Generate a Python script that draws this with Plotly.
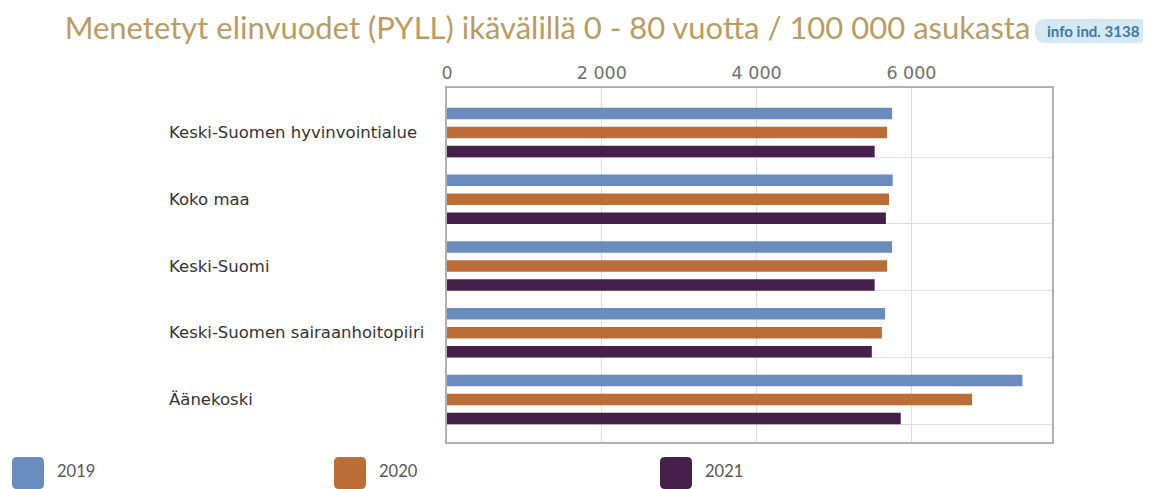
import plotly.graph_objects as go

categories = ["Keski-Suomen hyvinvointialue", "Koko maa", "Keski-Suomi",
              "Keski-Suomen sairaanhoitopiiri", "Äänekoski"]
years = ["2019", "2020", "2021"]
values_2019 = [5750, 5758, 5750, 5659, 7434]
values_2020 = [5685, 5710, 5685, 5618, 6783]
values_2021 = [5525, 5670, 5525, 5488, 5862]
colors = ["#6a8bbd", "#bc6c37", "#45204b"]
x_tickvals = [0, 2000, 4000, 6000]
title_text = "Menetetyt elinvuodet (PYLL) ikävälillä 0 - 80 vuotta / 100 000 asukasta"
badge_text = "info ind. 3138"

OFF = 8  # page body margin
W, H = 1151 - OFF, 489 - OFF
L, R, T, B = 447, 1052, 88, 442  # plot area in reference pixels


def px2paper(px, py):
    return (px - L) / (R - L), (B - py) / (B - T)


def rrect(x0, y0, x1, y1, r):
    def P(x, y):
        a, b = px2paper(x, y)
        return f"{a:.5f},{b:.5f}"
    return (f"M {P(x0 + r, y0)} L {P(x1 - r, y0)} Q {P(x1, y0)} {P(x1, y0 + r)} "
            f"L {P(x1, y1 - r)} Q {P(x1, y1)} {P(x1 - r, y1)} "
            f"L {P(x0 + r, y1)} Q {P(x0, y1)} {P(x0, y1 - r)} "
            f"L {P(x0, y0 + r)} Q {P(x0, y0)} {P(x0 + r, y0)} Z")


series = [values_2019, values_2020, values_2021]
ypos = list(range(len(categories)))

fig = go.Figure()
for name, vals, col in zip(years, series, colors):
    fig.add_trace(go.Bar(y=ypos, x=vals, name=name, orientation="h",
                         marker=dict(color=col, line=dict(width=0)),
                         showlegend=False))

shapes = []
annotations = []

for i, c in enumerate(categories):
    annotations.append(dict(x=(167 - L) / (R - L), y=i, xref="paper", yref="y",
                            text=c, showarrow=False, xanchor="left", yanchor="middle",
                            font=dict(family="DejaVu Sans", size=16.5, color="#333333")))

leg_sq = [12, 334, 660]
for j, (name, col) in enumerate(zip(years, colors)):
    x0 = leg_sq[j]
    shapes.append(dict(type="path", xref="paper", yref="paper",
                       path=rrect(x0, 457, x0 + 32, 489, 5),
                       fillcolor=col, line=dict(width=0), layer="above"))
    a, b = px2paper(x0 + 43, 471)
    annotations.append(dict(x=a, y=b, xref="paper", yref="paper", text=name,
                            showarrow=False, xanchor="left", yanchor="middle",
                            font=dict(family="Lato", size=16.5, color="#555555")))

shapes.append(dict(type="path", xref="paper", yref="paper",
                   path=rrect(1035, 19, 1150, 43, 11),
                   fillcolor="#d5e8f4", line=dict(width=0), layer="above"))
a, b = px2paper(1093, 31)
annotations.append(dict(x=a, y=b, xref="paper", yref="paper", text="<b>" + badge_text + "</b>",
                        showarrow=False, xanchor="center", yanchor="middle",
                        font=dict(family="Lato", size=15, color="#3a79a6")))

grid_offset = 24.5 / 66.75
fig.update_layout(
    width=W, height=H,
    margin=dict(l=L - OFF, r=1151 - R, t=T - OFF, b=489 - B, pad=0),
    paper_bgcolor="white", plot_bgcolor="white",
    barmode="group", bargap=0.146, bargroupgap=0.4,
    separators=", ",
    title=dict(text=title_text, x=(547.5 - OFF) / W, xref="container", xanchor="center",
               y=1 - (28 - OFF) / H, yref="container", yanchor="middle",
               font=dict(family="Lato", size=31, color="#bb9b62")),
    xaxis=dict(side="top", range=[0, 7816], tickvals=x_tickvals, tickformat=",d",
               showgrid=True, gridcolor="#dddddd", gridwidth=1,
               showline=True, linecolor="#b0b0b0", linewidth=2, mirror=True,
               zeroline=False, ticks="",
               tickfont=dict(family="DejaVu Sans", size=17.5, color="#707070")),
    yaxis=dict(range=[4 + (442 - 399.5) / 66.75, -(132.5 - 88) / 66.75],
               tickvals=ypos, showticklabels=False, ticks="", showgrid=False,
               zeroline=False, showline=True, linecolor="#b0b0b0", linewidth=2, mirror=True,
               minor=dict(tickmode="array", tickvals=[i + grid_offset for i in ypos],
                          showgrid=True, gridcolor="#dddddd", gridwidth=1, ticks="")),
    shapes=shapes, annotations=annotations,
)

fig.write_html("out.html")
